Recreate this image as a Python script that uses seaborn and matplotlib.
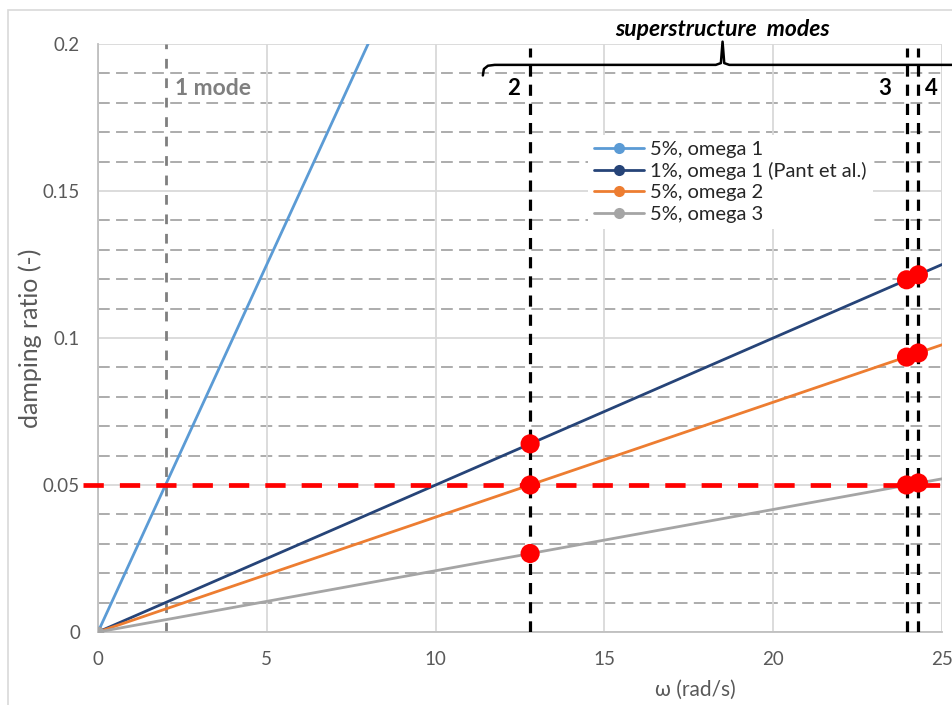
import numpy as np
import pandas as pd
import seaborn as sns
import matplotlib
matplotlib.use("Agg")
import matplotlib.pyplot as plt
from matplotlib.lines import Line2D
from matplotlib.patches import Rectangle
from matplotlib.ticker import MultipleLocator

# Damping ratio lines (Rayleigh-type, straight through origin): value at omega = 25 rad/s
series_names = ["5%, omega 1", "1%, omega 1 (Pant et al.)", "5%, omega 2", "5%, omega 3"]
series_colors = ["#5B9BD5", "#264478", "#ED7D31", "#A5A5A5"]
omega_ends = [0.0, 25.0]
ratio_ends = [
    [0.0, 0.625],
    [0.0, 0.125],
    [0.0, 0.0977],
    [0.0, 0.0521],
]

# Modal frequencies (rad/s)
mode1_omega = 2.0
super_modes = [12.8, 23.95, 24.3]
super_labels = ["2", "3", "4"]

# Damping ratios at the superstructure modes
pt_omega = [12.8, 12.8, 12.8, 23.95, 24.3, 23.95, 24.3, 23.95, 24.3]
pt_ratio = [0.064, 0.050, 0.0267, 0.1198, 0.1215, 0.0935, 0.0949, 0.0500, 0.0507]

target_ratio = 0.05

sns.set_theme(style="white")
plt.rcParams["font.family"] = ["Lato", "DejaVu Sans"]

fig = plt.figure(figsize=(9.52, 7.05), dpi=100)
ax = fig.add_axes([98 / 952, 1 - 632 / 705, 844 / 952, 588 / 705])

# chart border
fig.patches.append(Rectangle((8 / 952, -0.1), 1.2, 1 - 10 / 705 + 0.1,
                             transform=fig.transFigure, fill=False,
                             edgecolor="#d9d9d9", lw=1.2, zorder=0))

ax.set_xlim(0, 25)
ax.set_ylim(0, 0.2)
ax.xaxis.set_major_locator(MultipleLocator(5))
ax.yaxis.set_major_locator(MultipleLocator(0.05))

# gridlines
ax.grid(which="major", axis="both", color="#d9d9d9", lw=1.3, zorder=0)
for yv in np.arange(0.01, 0.2, 0.01):
    if abs(yv / 0.05 - round(yv / 0.05)) > 1e-6:
        ax.axhline(yv, color="#a6a6a6", lw=1.3, ls=(0, (6.5, 3.5)), zorder=0.5)
ax.axvline(25, color="#d9d9d9", lw=1.3, zorder=0)

for s in ["top", "right"]:
    ax.spines[s].set_visible(False)
for s in ["left", "bottom"]:
    ax.spines[s].set_color("#bfbfbf")
    ax.spines[s].set_linewidth(1.3)

ax.tick_params(axis="both", which="both", length=0, labelsize=13.5, labelcolor="#595959")
ax.tick_params(axis="x", pad=14)
ax.tick_params(axis="y", pad=13)
ax.set_xticks([0, 5, 10, 15, 20, 25])
ax.set_xticklabels(["0", "5", "10", "15", "20", "25"])
ax.set_yticks([0, 0.05, 0.1, 0.15, 0.2])
ax.set_yticklabels(["0", "0.05", "0.1", "0.15", "0.2"])
ax.set_xlabel("ω (rad/s)", fontsize=15, color="#595959")
ax.xaxis.set_label_coords((695 - 98) / 844, -(690 - 632) / 588, transform=ax.transAxes)
ax.xaxis.label.set_va("center")
ax.set_ylabel("damping ratio (-)", fontsize=18, color="#595959")
ax.yaxis.set_label_coords(-(98 - 30) / 844, 0.5, transform=ax.transAxes)
ax.yaxis.label.set_va("center")

# mode 1 line
ax.axvline(mode1_omega, color="#7f7f7f", lw=2, ls=(0, (3.5, 3.5)), zorder=2)
ax.text(2.28, 0.1847, "1 mode", fontsize=16.5, fontweight="bold", color="#7f7f7f",
        va="center", ha="left")

# damping lines
for name, color, ys in zip(series_names, series_colors, ratio_ends):
    df = pd.DataFrame({"omega": omega_ends, "ratio": ys})
    sns.lineplot(data=df, x="omega", y="ratio", color=color, lw=2, ax=ax,
                 marker="o", markersize=8, markeredgewidth=0, markevery=[0],
                 zorder=3, legend=False)

# superstructure mode lines
for xv in super_modes:
    ax.plot([xv, xv], [0, 0.1985], color="black", lw=2.3, ls=(0, (3.5, 2.5)), zorder=4)
for xv, lab in zip([12.32, 23.3, 24.68], super_labels):
    ax.text(xv, 0.185, lab, fontsize=16, fontweight="bold", color="black",
            ha="center", va="center")

# 5% target
ax.plot([-0.45, 25.4], [target_ratio, target_ratio], color="red", lw=3.4,
        ls=(0, (4.3, 3.4)), zorder=5, clip_on=False)

# points
sns.scatterplot(x=pt_omega, y=pt_ratio, color="red", s=190, edgecolor="none",
                ax=ax, zorder=6, clip_on=False, legend=False)

# brace
bx = [11.4, 11.43, 11.55, 11.75, 18.3, 18.45, 18.5, 18.55, 18.7, 25.4]
by = [0.1893, 0.1915, 0.1926, 0.1929, 0.1929, 0.1935, 0.2008, 0.1935, 0.1929, 0.1929]
ax.plot(bx, by, color="black", lw=1.8, clip_on=False, zorder=6,
        solid_joinstyle="round")
ax.text(18.5, 0.2048, "superstructure  modes", fontsize=16.5, fontweight="bold",
        style="italic", color="black", ha="center", va="center")

# legend
handles = [Line2D([0], [0], color=c, lw=2, marker="o", markersize=8,
                  markeredgewidth=0) for c in series_colors]
leg = ax.legend(handles, series_names, loc="upper left",
                bbox_to_anchor=((578 - 98) / 844, (632 - 125) / 588),
                bbox_transform=ax.transAxes,
                fontsize=14.5, frameon=True, framealpha=1, edgecolor="white",
                fancybox=False, handlelength=2.5, handletextpad=0.3,
                labelspacing=0.2, borderpad=0.3)
leg.get_frame().set_linewidth(0)
for t in leg.get_texts():
    t.set_color("#262626")
leg.set_zorder(7)

fig.savefig("out.png", dpi=100)
